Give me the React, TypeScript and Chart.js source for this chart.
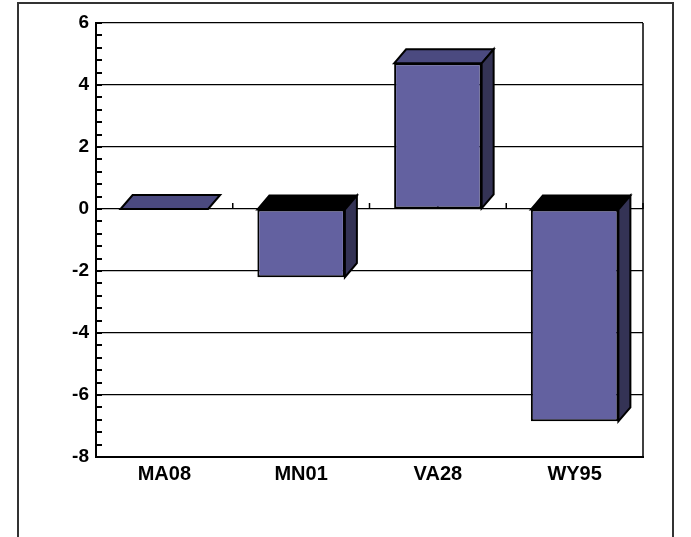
import React, { useEffect, useRef } from "react";
import { Chart, registerables } from "chart.js";

Chart.register(...registerables);

const categories = ["MA08", "MN01", "VA28", "WY95"];
const values = [0, -2.2, 4.7, -6.85];
const yMin = -8;
const yMax = 6;
const yStep = 2;
const minorStep = 0.4;

const FRONT = "#6361A0";
const SIDE = "#343355";
const TOP_POS = "#4B4A80";
const DEPTH_X = 12;
const DEPTH_Y = 14;

// Frame, plot border, minor ticks and the small marks on the zero line
const decorPlugin = {
  id: "decor",
  beforeDraw(chart: any) {
    const ctx = chart.ctx;
    ctx.save();
    ctx.fillStyle = "#fff";
    ctx.fillRect(0, 0, chart.width, chart.height);
    ctx.strokeStyle = "#333";
    ctx.lineWidth = 2;
    ctx.strokeRect(18, 3, 655, chart.height + 10);
    ctx.restore();
  },
  beforeDatasetsDraw(chart: any) {
    const ctx = chart.ctx;
    const { left, right, top, bottom } = chart.chartArea;
    const y = chart.scales.y;
    const x = chart.scales.x;
    ctx.save();
    ctx.strokeStyle = "#000";
    ctx.lineWidth = 1.5;
    // right border of the plot
    ctx.beginPath();
    ctx.moveTo(right, top);
    ctx.lineTo(right, bottom);
    ctx.stroke();
    // minor ticks along the value axis
    ctx.lineWidth = 2;
    for (let v = yMin; v <= yMax + 1e-6; v += minorStep) {
      const py = Math.round(y.getPixelForValue(v));
      ctx.beginPath();
      ctx.moveTo(left, py);
      ctx.lineTo(left + 6, py);
      ctx.stroke();
    }
    // ticks on the zero line at category centres and boundaries
    ctx.lineWidth = 1.5;
    const zy = y.getPixelForValue(0);
    const n = categories.length;
    const step = (right - left) / n;
    for (let i = 0; i < n; i++) {
      const cx = x.getPixelForValue(i);
      const bx = left + step * (i + 1);
      [cx, bx].forEach((px) => {
        ctx.beginPath();
        ctx.moveTo(px, zy);
        ctx.lineTo(px, zy - 6);
        ctx.stroke();
      });
    }
    ctx.restore();
  },
  afterDatasetsDraw(chart: any) {
    const ctx = chart.ctx;
    const meta = chart.getDatasetMeta(0);
    ctx.save();
    ctx.strokeStyle = "#000";
    ctx.lineWidth = 2;
    ctx.lineJoin = "miter";
    meta.data.forEach((bar: any, i: number) => {
      const { x, y, base, width } = bar.getProps(["x", "y", "base", "width"], true);
      const l = x - width / 2;
      const r = x + width / 2;
      const t = Math.min(y, base);
      const b = Math.max(y, base);
      // top face
      ctx.beginPath();
      ctx.moveTo(l, t);
      ctx.lineTo(l + DEPTH_X, t - DEPTH_Y);
      ctx.lineTo(r + DEPTH_X, t - DEPTH_Y);
      ctx.lineTo(r, t);
      ctx.closePath();
      ctx.fillStyle = values[i] < 0 ? "#000" : TOP_POS;
      ctx.fill();
      ctx.stroke();
      // side face
      if (b - t > 0.5) {
        ctx.beginPath();
        ctx.moveTo(r, t);
        ctx.lineTo(r + DEPTH_X, t - DEPTH_Y);
        ctx.lineTo(r + DEPTH_X, b - DEPTH_Y);
        ctx.lineTo(r, b);
        ctx.closePath();
        ctx.fillStyle = SIDE;
        ctx.fill();
        ctx.stroke();
      }
    });
    ctx.restore();
  },
};

export default function App() {
  const ref = useRef<HTMLCanvasElement | null>(null);

  useEffect(() => {
    if (!ref.current) return;
    const chart = new Chart(ref.current, {
      type: "bar",
      data: {
        labels: categories,
        datasets: [
          {
            data: values,
            backgroundColor: FRONT,
            borderColor: "#000",
            borderWidth: 2,
            borderSkipped: false,
            categoryPercentage: 1,
            barPercentage: 0.64,
          },
        ],
      },
      options: {
        responsive: false,
        animation: false,
        devicePixelRatio: 1,
        layout: { padding: { left: 0, top: 23, right: 48, bottom: 0 } },
        plugins: { legend: { display: false }, tooltip: { enabled: false } },
        scales: {
          x: {
            afterFit(scale: any) {
              scale.height = 80;
            },
            grid: { display: false, drawTicks: false },
            border: { display: true, color: "#000", width: 2 },
            ticks: {
              color: "#000",
              padding: 5,
              font: { family: "'Liberation Sans', Arial, sans-serif", size: 20, weight: "bold" },
            },
          },
          y: {
            min: yMin,
            max: yMax,
            afterFit(scale: any) {
              scale.width = 96;
            },
            grid: { color: "#000", lineWidth: 1.2, drawTicks: false },
            border: { display: true, color: "#000", width: 2 },
            ticks: {
              stepSize: yStep,
              color: "#000",
              padding: 7,
              font: { family: "'Liberation Sans', Arial, sans-serif", size: 19, weight: "bold" },
            },
          },
        },
      },
      plugins: [decorPlugin],
    });
    return () => chart.destroy();
  }, []);

  return (
    <div style={{ position: "absolute", left: 0, top: 0, width: 691, height: 537 }}>
      <canvas ref={ref} width={691} height={537} style={{ display: "block" }} />
    </div>
  );
}
